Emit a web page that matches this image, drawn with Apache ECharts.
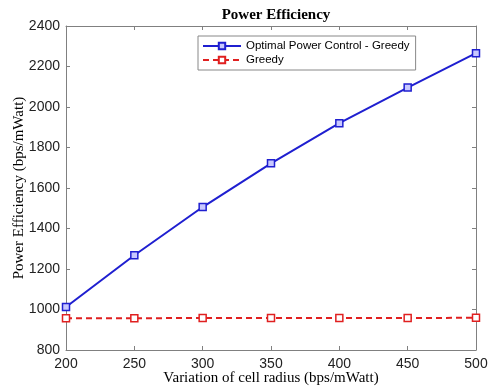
<!DOCTYPE html>
<html>
<head>
<meta charset="utf-8">
<script src="https://cdn.jsdelivr.net/npm/echarts@6/dist/echarts.min.js"></script>
<style>html,body{margin:0;padding:0;background:#fff}#c{width:490px;height:389px}</style>
</head>
<body>
<div id="c"></div>
<script>
const radius = [200, 250, 300, 350, 400, 450, 500];
const optimalGreedy = [1012, 1268, 1506, 1722, 1920, 2096, 2266];
const greedy = [957, 957, 958, 958, 958, 958, 959];
const seriesNames = ['Optimal Power Control - Greedy', 'Greedy'];

const chart = echarts.init(document.getElementById('c'));
const axisGrey = '#808080';
const pair = (xs, ys) => xs.map((x, i) => [x, ys[i]]);
const xCommon = {type: 'value', min: 200, max: 500, interval: 50,
  axisLine: {show: true, onZero: false, lineStyle: {color: axisGrey, width: 1}},
  axisTick: {show: true, inside: true, length: 4, lineStyle: {color: axisGrey}},
  splitLine: {show: false}};
const yCommon = {type: 'value', min: 800, max: 2400, interval: 200,
  axisLine: {show: true, onZero: false, lineStyle: {color: axisGrey, width: 1}},
  axisTick: {show: true, inside: true, length: 4, lineStyle: {color: axisGrey}},
  splitLine: {show: false}};
chart.setOption({
  animation: false,
  backgroundColor: '#fff',
  title: {text: 'Power Efficiency', left: 271, textAlign: 'center', top: 3,
    textStyle: {fontFamily: 'Liberation Serif', fontWeight: 'bold', fontSize: 15, color: '#000'}},
  grid: {left: 66, right: 14, top: 26, bottom: 39, containLabel: false, outerBoundsMode: 'none'},
  legend: {orient: 'vertical', left: 198, top: 36, width: 211,
    backgroundColor: '#fff', borderColor: '#888', borderWidth: 1,
    padding: [4, 6, 4, 4], itemGap: 2, itemWidth: 38, itemHeight: 8,
    textStyle: {fontFamily: 'Liberation Sans', fontSize: 11.5, color: '#000'},
    data: seriesNames},
  xAxis: [
    Object.assign({}, xCommon, {position: 'bottom',
      name: 'Variation of cell radius (bps/mWatt)', nameLocation: 'middle', nameGap: 21,
      nameMoveOverlap: false,
      nameTextStyle: {fontFamily: 'Liberation Serif', fontSize: 15, color: '#000'},
      axisLabel: {fontFamily: 'Liberation Sans', fontSize: 14, color: '#222', margin: 7}}),
    Object.assign({}, xCommon, {position: 'top', axisLabel: {show: false}})
  ],
  yAxis: [
    Object.assign({}, yCommon, {position: 'left',
      name: 'Power Efficiency (bps/mWatt)', nameLocation: 'middle', nameGap: 39, nameRotate: 90,
      nameMoveOverlap: false,
      nameTextStyle: {fontFamily: 'Liberation Serif', fontSize: 15, color: '#000'},
      axisLabel: {fontFamily: 'Liberation Sans', fontSize: 14, color: '#222', margin: 6,
        formatter: v => String(v)}}),
    Object.assign({}, yCommon, {position: 'right', axisLabel: {show: false}})
  ],
  series: [
    {name: seriesNames[0], type: 'line', data: pair(radius, optimalGreedy),
      symbol: 'rect', symbolSize: 7, showAllSymbol: true,
      lineStyle: {color: '#1f1fd0', width: 2},
      itemStyle: {color: '#c8c8ff', borderColor: '#1f1fd0', borderWidth: 1.5}},
    {name: seriesNames[1], type: 'line', data: pair(radius, greedy),
      symbol: 'rect', symbolSize: 7, showAllSymbol: true,
      lineStyle: {color: '#e02020', width: 2, type: [6, 4]},
      itemStyle: {color: '#fff', borderColor: '#e02020', borderWidth: 1.5}}
  ]
});
</script>
</body>
</html>
